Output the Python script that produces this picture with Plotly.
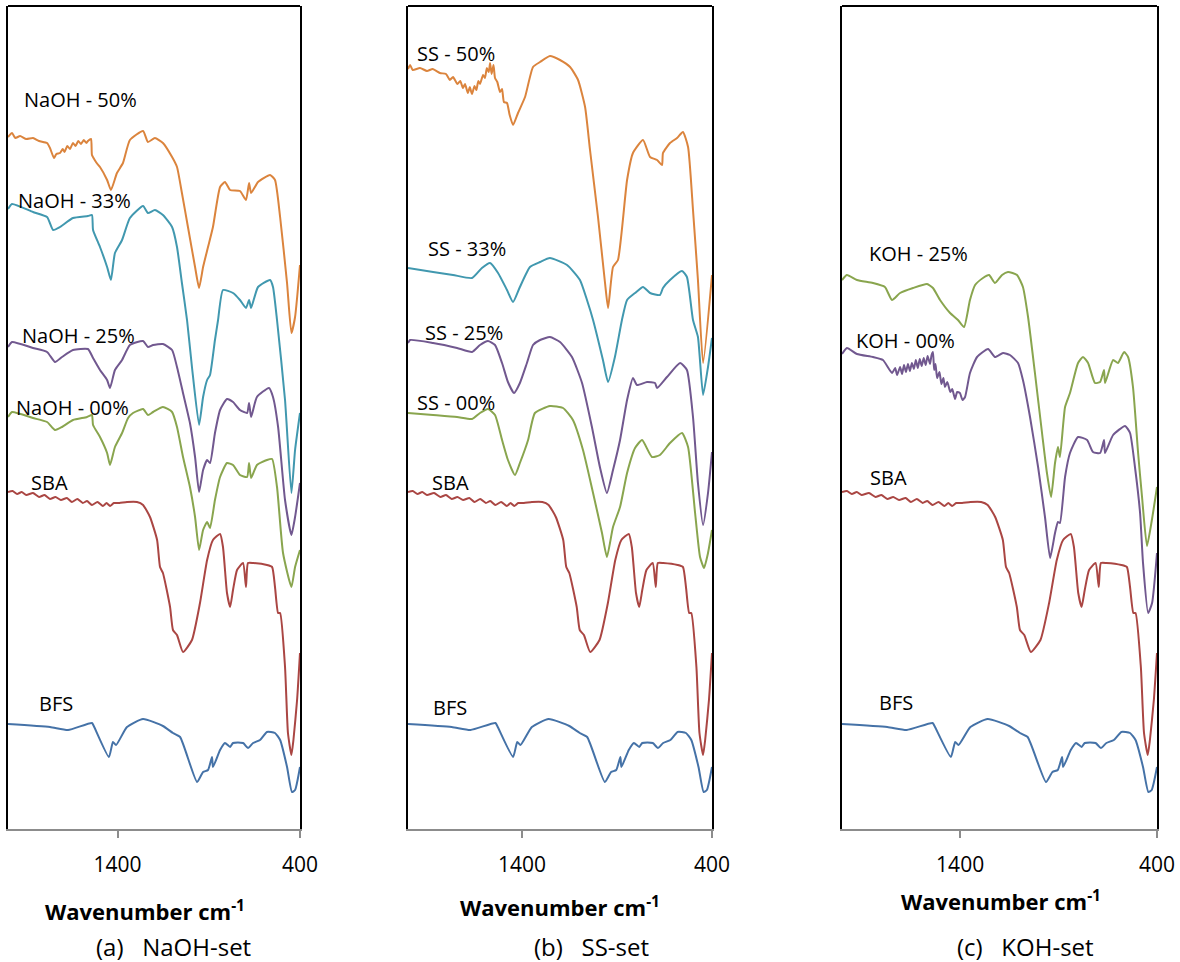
import plotly.graph_objects as go

# ---------------- data (wavenumber cm-1, offset transmittance a.u.) ----------------
bfs_wn = [2000, 1770, 1671, 1540, 1530, 1447, 1425, 1408, 1348, 1260, 1151, 1096, 1057, 964, 931, 904, 882, 877,
          838, 811, 783, 767, 712, 685, 657, 619, 581, 537, 509, 471, 444, 427, 400]
bfs_v = [106, 103, 100, 107, 104, 73, 88, 85, 103, 111, 104, 97, 93, 48, 58, 60, 73, 63,
         80, 87, 83, 87, 87, 82, 87, 90, 98, 97, 90, 63, 38, 40, 63]

sba_wn = [2000, 1975, 1950, 1925, 1900, 1863, 1830, 1800, 1770, 1740, 1710, 1677, 1650, 1620, 1590, 1567, 1540,
          1510, 1480, 1460, 1441, 1420, 1390, 1348, 1293, 1260, 1222, 1183, 1167, 1151, 1112, 1096, 1074, 1041,
          992, 948, 909, 877, 838, 822, 800, 783, 767, 745, 712, 696, 685, 657, 581, 553, 537, 520, 509, 482,
          466, 447, 436, 416, 400]
sba_v = [338, 339, 336, 338, 335, 337, 333, 335, 331, 333, 330, 332, 328, 331, 327, 329, 325,
         328, 324, 327, 324, 327, 327, 328, 328, 325, 313, 290, 263, 257, 223, 200, 195, 178,
         190, 227, 270, 290, 296, 283, 237, 223, 240, 260, 267, 243, 267, 267, 265, 263, 243, 217, 217, 163,
         97, 75, 90, 130, 177]

naoh00_wn = [2000, 1978, 1863, 1786, 1742, 1704, 1644, 1567, 1540, 1534, 1496, 1457, 1441, 1414, 1375, 1342,
             1315, 1260, 1233, 1205, 1151, 1101, 1074, 1041, 1003, 975, 953, 931, 909, 893, 866, 838, 800, 767,
             729, 690, 679, 668, 636, 581, 553, 526, 493, 447, 427, 400]
naoh00_v = [413, 418, 412, 408, 400, 403, 410, 413, 415, 405, 393, 377, 365, 383, 397, 412,
            417, 421, 415, 418, 423, 418, 403, 373, 343, 313, 280, 300, 308, 302, 330, 353, 367, 365,
            355, 353, 367, 352, 365, 370, 371, 343, 277, 243, 263, 280]

naoh25_wn = [2000, 1978, 1863, 1786, 1742, 1704, 1644, 1562, 1534, 1496, 1457, 1441, 1414, 1375, 1332, 1260,
             1233, 1205, 1151, 1101, 1074, 1041, 1003, 975, 953, 931, 909, 893, 866, 838, 800, 767, 729, 690,
             679, 668, 636, 570, 548, 520, 482, 447, 427, 400]
naoh25_v = [483, 488, 482, 478, 468, 473, 480, 481, 472, 460, 450, 442, 460, 470, 485, 489,
            483, 485, 486, 480, 463, 437, 407, 373, 338, 360, 370, 367, 397, 420, 431, 428, 420, 417,
            427, 413, 433, 442, 433, 403, 330, 295, 313, 347]

naoh33_wn = [2000, 1978, 1863, 1786, 1753, 1715, 1644, 1562, 1540, 1534, 1496, 1457, 1436, 1414, 1375, 1332,
             1260, 1233, 1195, 1151, 1101, 1074, 1047, 1019, 992, 953, 931, 909, 893, 866, 849, 822, 767, 729,
             696, 679, 668, 630, 564, 548, 526, 482, 447, 427, 400]
naoh33_v = [621, 626, 618, 613, 600, 603, 612, 614, 615, 600, 583, 563, 550, 577, 590, 612,
            624, 617, 620, 615, 603, 583, 547, 510, 463, 405, 433, 450, 455, 490, 510, 540, 537, 530,
            522, 530, 522, 543, 550, 543, 510, 430, 337, 380, 417]

naoh50_wn = [2000, 1978, 1960, 1934, 1900, 1863, 1830, 1786, 1770, 1748, 1735, 1715, 1700, 1690, 1675, 1660,
             1644, 1630, 1615, 1600, 1585, 1570, 1562, 1545, 1540, 1525, 1510, 1496, 1457, 1436, 1403,
             1370, 1332, 1260, 1233, 1195, 1151, 1101, 1074, 1047, 1014, 975, 953, 931, 904, 877, 838, 811,
             783, 729, 696, 679, 668, 630, 564, 537, 509, 471, 447, 427, 400]
naoh50_v = [693, 697, 692, 694, 691, 692, 689, 687, 682, 672, 676, 677, 681, 678, 684, 681,
            687, 684, 689, 686, 690, 687, 689, 691, 675, 670, 666, 663, 650, 640, 657,
            667, 690, 699, 688, 692, 687, 673, 663, 637, 603, 563, 542, 563, 583, 603, 643, 648,
            640, 639, 630, 647, 637, 648, 655, 650, 613, 547, 497, 513, 565]

ss00_wn = [2000, 1868, 1742, 1663, 1621, 1579, 1542, 1505, 1474, 1437, 1411, 1368, 1332, 1253, 1184, 1132,
           1079, 1026, 979, 953, 921, 884, 847, 805, 768, 716, 674, 621, 558, 526, 489, 463, 442, 421, 400]
ss00_v = [417, 415, 413, 411, 417, 421, 415, 390, 370, 355, 367, 390, 417, 424, 422, 410,
          380, 337, 297, 273, 303, 323, 357, 382, 390, 373, 375, 387, 397, 383, 317, 273, 262, 277, 300]

ss25_wn = [2000, 1989, 1868, 1742, 1663, 1621, 1579, 1542, 1505, 1474, 1442, 1411, 1374, 1342, 1305, 1253,
           1200, 1137, 1084, 1032, 990, 953, 921, 884, 847, 816, 795, 742, 700, 689, 637, 568, 532, 500, 474,
           447, 421, 400]
ss25_v = [487, 490, 487, 482, 478, 485, 489, 485, 467, 448, 437, 447, 467, 485, 490, 493,
          488, 473, 447, 403, 363, 337, 360, 390, 430, 452, 445, 448, 447, 442, 453, 467, 460, 413, 347,
          305, 337, 378]

ss33_wn = [2000, 1868, 1763, 1663, 1611, 1568, 1526, 1479, 1447, 1411, 1358, 1305, 1253, 1163, 1095, 1058,
           1026, 974, 947, 911, 874, 847, 805, 763, 726, 674, 658, 621, 558, 532, 500, 474, 447, 421, 400]
ss33_v = [562, 558, 555, 552, 562, 567, 557, 540, 528, 543, 563, 568, 572, 565, 550, 530,
          510, 470, 448, 473, 510, 530, 537, 543, 537, 535, 542, 550, 559, 553, 510, 493, 435, 463, 492]

ss50_wn = [2000, 1989, 1975, 1937, 1900, 1870, 1832, 1800, 1780, 1763, 1740, 1725, 1711, 1700, 1685, 1675,
           1663, 1650, 1640, 1630, 1621, 1605, 1595, 1585, 1575, 1568, 1560, 1550, 1542, 1530, 1516, 1505,
           1495, 1479, 1465, 1447, 1421, 1384, 1342,
           1305, 1253, 1200, 1147, 1105, 1068, 1042, 1000, 963, 947, 921, 895, 847, 816, 763, 726, 689, 663,
           658, 621, 584, 553, 526, 500, 474, 447, 400]
ss50_v = [761, 765, 760, 762, 759, 761, 757, 756, 750, 753, 746, 749, 742, 746, 737, 743,
          736, 744, 740, 749, 746, 755, 752, 762, 758, 767, 756, 765, 752, 748, 738, 741,
          728, 727, 715, 705, 717, 733, 763,
          768, 774, 770, 763, 750, 723, 680, 613, 547, 522, 563, 570, 650, 677, 690, 673, 670, 665,
          677, 687, 692, 698, 683, 620, 550, 467, 555]

koh00_wn = [2000, 1975, 1924, 1843, 1792, 1746, 1730, 1720, 1705, 1695, 1685, 1675, 1665, 1655, 1645, 1635,
            1625, 1615, 1605, 1595, 1585, 1575, 1565, 1553, 1545, 1538, 1532, 1525, 1517, 1505, 1495, 1485,
            1477, 1465, 1450, 1440, 1426, 1415, 1401, 1388, 1375,
            1350, 1314, 1258, 1223, 1182, 1147, 1106, 1081, 1045, 1004, 969, 943, 918, 903, 893, 867, 842,
            801, 755, 725, 689, 669, 664, 623, 562, 537, 512, 486, 471, 445, 425, 400]
koh00_v = [476, 482, 476, 473, 470, 457, 462, 455, 463, 456, 465, 458, 466, 459, 467, 461,
           470, 462, 471, 464, 472, 465, 474, 466, 475, 478, 460, 466, 452, 458, 446, 452,
           443, 448, 438, 441, 431, 438, 437, 430, 433,
           457, 473, 481, 473, 477, 475, 467, 450, 413, 363, 313, 272, 297, 308, 307, 353, 377,
           393, 390, 378, 377, 390, 377, 395, 404, 397, 363, 317, 267, 217, 227, 277]

koh25_wn = [2000, 1975, 1924, 1843, 1782, 1746, 1705, 1639, 1568, 1538, 1502, 1451, 1411, 1380, 1350, 1324,
            1284, 1253, 1223, 1187, 1157, 1111, 1081, 1055, 1020, 984, 959, 938, 918, 903, 893, 867, 842,
            801, 776, 750, 715, 689, 669, 664, 623, 598, 567, 547, 522, 496, 476, 451, 426, 400]
koh25_v = [550, 555, 550, 547, 543, 530, 537, 542, 546, 542, 530, 517, 510, 503, 530, 545,
           552, 555, 547, 555, 558, 555, 543, 513, 457, 397, 357, 333, 367, 383, 373, 423, 437,
           467, 473, 467, 447, 448, 460, 447, 470, 467, 478, 473, 443, 377, 333, 284, 310, 343]

tick_vals = [1400, 400]
tick_text = ["1400", "400"]

C_BLUE, C_RED, C_GREEN = "#4572A7", "#AA4643", "#89A54E"
C_PURPLE, C_TEAL, C_ORANGE = "#71588F", "#4198AF", "#DB843D"

panels = [
    {"series": [(bfs_wn, bfs_v, C_BLUE, "BFS"), (sba_wn, sba_v, C_RED, "SBA"),
                (naoh00_wn, naoh00_v, C_GREEN, "NaOH - 00%"), (naoh25_wn, naoh25_v, C_PURPLE, "NaOH - 25%"),
                (naoh33_wn, naoh33_v, C_TEAL, "NaOH - 33%"), (naoh50_wn, naoh50_v, C_ORANGE, "NaOH - 50%")],
     "labels": [("NaOH - 50%", 1605, 731), ("NaOH - 33%", 1633, 630), ("NaOH - 25%", 1616, 495),
                ("NaOH - 00%", 1644, 423), ("SBA", 1770, 348), ("BFS", 1737, 127)],
     "dom": [8, 300], "title_x": 145, "title_y": 910, "sub": "(a)&nbsp;&nbsp;&nbsp;NaOH-set", "sub_x": 173},
    {"series": [(bfs_wn, bfs_v, C_BLUE, "BFS"), (sba_wn, sba_v, C_RED, "SBA"),
                (ss00_wn, ss00_v, C_GREEN, "SS - 00%"), (ss25_wn, ss25_v, C_PURPLE, "SS - 25%"),
                (ss33_wn, ss33_v, C_TEAL, "SS - 33%"), (ss50_wn, ss50_v, C_ORANGE, "SS - 50%")],
     "labels": [("SS - 50%", 1747, 777), ("SS - 33%", 1689, 582), ("SS - 25%", 1705, 498),
                ("SS - 00%", 1747, 428), ("SBA", 1774, 348), ("BFS", 1779, 123)],
     "dom": [408, 712], "title_x": 560, "title_y": 906, "sub": "(b)&nbsp;&nbsp;&nbsp;SS-set", "sub_x": 591},
    {"series": [(bfs_wn, bfs_v, C_BLUE, "BFS"), (sba_wn, sba_v, C_RED, "SBA"),
                (koh00_wn, koh00_v, C_PURPLE, "KOH - 00%"), (koh25_wn, koh25_v, C_GREEN, "KOH - 25%")],
     "labels": [("KOH - 25%", 1609, 577), ("KOH - 00%", 1675, 490), ("SBA", 1766, 353), ("BFS", 1726, 128)],
     "dom": [842, 1157], "title_x": 1001, "title_y": 900, "sub": "(c)&nbsp;&nbsp;&nbsp;KOH-set", "sub_x": 1025},
]

W, H = 1180, 962
FONT = "Open Sans"
fig = go.Figure()
annotations = []
shapes = []
for i, p in enumerate(panels):
    ax = "" if i == 0 else str(i + 1)
    for wn, v, col, name in p["series"]:
        fig.add_trace(go.Scatter(x=wn, y=v, mode="lines", name=name, showlegend=False, hoverinfo="skip",
                                 line=dict(color=col, width=2, shape="spline", smoothing=0.5),
                                 xaxis="x" + ax, yaxis="y" + ax))
    dom = [p["dom"][0] / W, p["dom"][1] / W]
    fig.update_layout(**{
        "xaxis" + ax: dict(domain=dom, range=[2000, 400], tickvals=tick_vals, ticktext=tick_text,
                           ticks="outside", ticklen=7, tickwidth=1.5, tickcolor="#8c8c8c",
                           showline=True, linecolor="#8c8c8c", linewidth=2, showgrid=False, zeroline=False,
                           tickfont=dict(family=FONT, size=21, color="black"), ticklabelstandoff=9,
                           automargin=False, anchor="y" + ax),
        "yaxis" + ax: dict(domain=[1 - 829 / H, 1 - 6 / H], range=[1, 824], showticklabels=False,
                           ticks="", showgrid=False, zeroline=False, showline=True, mirror=True,
                           linecolor="black", linewidth=2, automargin=False, anchor="x" + ax),
    })
    shapes.append(dict(type="line", xref="x" + ax + " domain", yref="y" + ax + " domain",
                       x0=0, x1=1, y0=1, y1=1, line=dict(color="black", width=2)))
    for text, lx, ly in p["labels"]:
        annotations.append(dict(text=text, x=lx, y=ly, xref="x" + ax, yref="y" + ax, showarrow=False,
                                font=dict(family=FONT, size=20, color="black"), xanchor="center",
                                yanchor="middle"))
    annotations.append(dict(text="<b>Wavenumber cm<sup>-1</sup></b>", x=p["title_x"] / W,
                            y=1 - p["title_y"] / H, xref="paper", yref="paper", showarrow=False,
                            font=dict(family=FONT, size=22, color="black"), xanchor="center",
                            yanchor="middle"))
    annotations.append(dict(text=p["sub"], x=p["sub_x"] / W, y=1 - 946 / H, xref="paper", yref="paper",
                            showarrow=False, font=dict(family=FONT, size=24, color="black"),
                            xanchor="center", yanchor="middle"))

fig.update_layout(width=W, height=H, autosize=False,
                  margin=dict(l=0, r=0, t=0, b=0, pad=0, autoexpand=False),
                  plot_bgcolor="white", paper_bgcolor="white", annotations=annotations, shapes=shapes,
                  showlegend=False, hovermode=False)
page_fix = """
document.documentElement.style.overflow = 'hidden';
document.body.style.margin = '0px';
document.body.style.overflow = 'hidden';
"""
fig.write_html("out.html", config={"responsive": False, "displayModeBar": False},
               default_width="1180px", default_height="962px", post_script=page_fix)
